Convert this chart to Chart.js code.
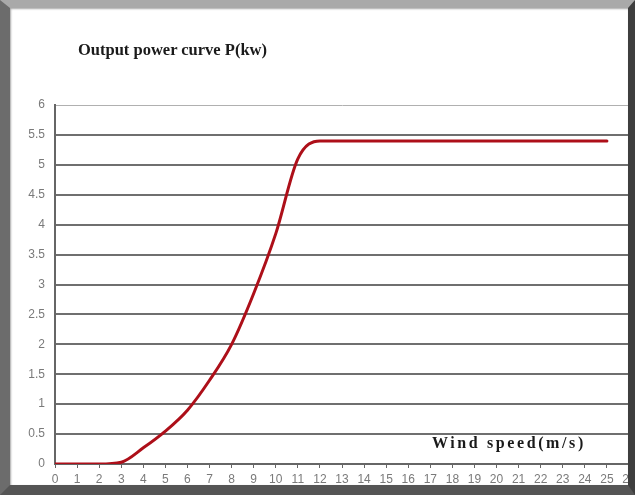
<!DOCTYPE html>
<html>
<head>
<meta charset="utf-8">
<script src="https://cdn.jsdelivr.net/npm/chart.js@4/dist/chart.umd.min.js"></script>
<style>
    html, body { margin: 0; padding: 0; }
    body { width: 635px; height: 495px; overflow: hidden; position: relative; background: #5c5c5c; }
    #frame {
        position: absolute; left: 0; top: 0; width: 635px; height: 495px; box-sizing: border-box;
        border-top: 8px solid #a9a9a9;
        border-left: 10px solid #6c6c6c;
        border-right: 7px solid #3e3e3e;
        border-bottom: 10px solid #555;
    }
    #panel {
        position: absolute; left: 10px; top: 8px; width: 618px; height: 477px;
        background: #fff; overflow: hidden;
        box-shadow: inset 1px 1px 2px rgba(0,0,0,0.35);
    }
    #wrap { position: absolute; left: -10px; top: -8px; width: 650px; height: 495px; }
    .label { position: absolute; font-family: "Liberation Serif", "DejaVu Serif", serif; font-weight: bold; color: #1a1a1a; white-space: nowrap; }
    #title { left: 68px; top: 32px; font-size: 16.5px; }
    #xtitle { left: 422px; top: 426px; font-size: 16px; letter-spacing: 2.6px; }
</style>
</head>
<body>
<div id="frame"></div>
<div id="panel">
    <div id="wrap"><canvas id="chart" width="650" height="495"></canvas></div>
    <div class="label" id="title">Output power curve P(kw)</div>
    <div class="label" id="xtitle">Wind speed(m/s)</div>
</div>
<script>
// wind speed (m/s) and output power (kW)
const windSpeeds = [0, 1, 2, 3, 4, 5, 6, 7, 8, 9, 10, 11, 12, 13, 14, 15, 16, 17, 18, 19, 20, 21, 22, 23, 24, 25];
const powerKw = [0, 0, 0, 0.03, 0.27, 0.55, 0.9, 1.4, 2.0, 2.85, 3.85, 5.1, 5.4, 5.4, 5.4, 5.4, 5.4, 5.4, 5.4, 5.4, 5.4, 5.4, 5.4, 5.4, 5.4, 5.4];
const yTicks = [0, 0.5, 1, 1.5, 2, 2.5, 3, 3.5, 4, 4.5, 5, 5.5, 6];
const xMax = 26;

const points = windSpeeds.map((w, i) => ({ x: w, y: powerKw[i] }));

const ctx = document.getElementById('chart').getContext('2d');

const myChart = new Chart(ctx, { // eslint-disable-line
    type: 'line',
    data: {
        datasets: [
            {
                label: 'P(kw)',
                data: points,
                borderColor: '#ad0f19',
                borderWidth: 3,
                pointRadius: 0,
                cubicInterpolationMode: 'monotone',
                borderCapStyle: 'round'
            }
        ]
    },
    options: {
        responsive: false,
        animation: false,
        layout: { padding: { left: 0, right: 21, top: 105, bottom: 0 } },
        plugins: {
            legend: { display: false },
            tooltip: { enabled: false }
        },
        scales: {
            x: {
                type: 'linear',
                min: 0,
                max: xMax,
                ticks: {
                    stepSize: 1,
                    autoSkip: false,
                    maxRotation: 0,
                    color: '#7a7a7a',
                    padding: 4,
                    font: { family: 'Liberation Sans', size: 12 }
                },
                grid: { drawOnChartArea: false, tickLength: 4, color: '#666', lineWidth: 1 },
                border: { color: '#666', width: 2 },
                afterFit: (scale) => {
                    scale.height = 31;
                    scale.paddingLeft = 0;
                    scale.paddingRight = 0;
                }
            },
            y: {
                min: 0,
                max: 6,
                afterBuildTicks: (scale) => {
                    scale.ticks = yTicks.map(v => ({ value: v }));
                },
                ticks: {
                    color: '#7a7a7a',
                    padding: 10,
                    font: { family: 'Liberation Sans', size: 12 },
                    callback: (v) => String(v)
                },
                grid: {
                    drawTicks: false,
                    color: (c) => (c.tick && c.tick.value === 6 ? '#b0b0b0' : '#6f6f6f'),
                    lineWidth: (c) => (c.tick && c.tick.value === 6 ? 1 : 2)
                },
                border: { color: '#666', width: 2 },
                afterFit: (scale) => {
                    scale.width = 55;
                    scale.paddingTop = 0;
                    scale.paddingBottom = 0;
                }
            }
        }
    }
});
</script>
</body>
</html>
